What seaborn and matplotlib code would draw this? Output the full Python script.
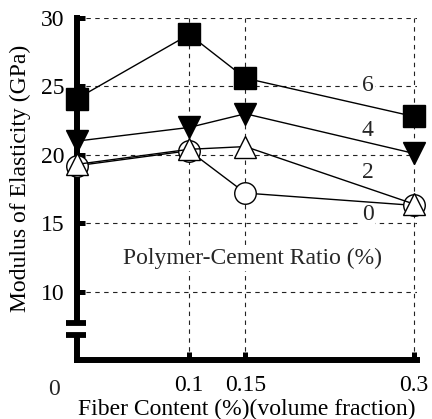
import numpy as np
import pandas as pd
import matplotlib
matplotlib.use("Agg")
import matplotlib.pyplot as plt
import matplotlib.transforms as mtransforms
import seaborn as sns

fiber = [0.0, 0.1, 0.15, 0.3]
ratio_labels = ["6", "4", "2", "0"]
e_pc6 = [24.1, 28.8, 25.6, 22.8]
e_pc4 = [21.0, 22.0, 23.0, 20.1]
e_pc2 = [19.3, 20.4, 20.6, 16.4]
e_pc0 = [19.2, 20.3, 17.2, 16.3]
y_ticks = [10, 15, 20, 25, 30]
x_ticks = [0.1, 0.15, 0.3]
x_ticklabels = ["0.1", "0.15", "0.3"]

sns.set_theme(style="white")
plt.rcParams['font.family'] = ['Liberation Serif', 'DejaVu Serif']

FS = 17

fig = plt.figure(figsize=(4.32, 4.19), dpi=100)
ax = fig.add_axes([0.178, 0.141, 0.787, 0.816])

series = [
    (e_pc0, 'o', 'white', 15.5),
    (e_pc2, '^', 'white', 16),
    (e_pc4, 'v', 'black', 16),
    (e_pc6, 's', 'black', 16),
]
for vals, mk, fc, ms in series:
    sns.lineplot(x=fiber, y=vals, ax=ax, color='black', linewidth=1.0,
                 marker=mk, markersize=ms, markerfacecolor=fc,
                 markeredgecolor='black', markeredgewidth=1.0,
                 clip_on=False, zorder=5)

ax.set_xlim(0, 0.3027)
ax.set_ylim(5, 30)
ax.set_xticks(x_ticks)
ax.set_xticklabels(x_ticklabels)
ax.set_yticks(y_ticks)
ax.set_yticklabels([str(v) for v in y_ticks])

for s in ['top', 'right']:
    ax.spines[s].set_visible(False)
for s in ['left', 'bottom']:
    ax.spines[s].set_linewidth(4.3)
    ax.spines[s].set_color('black')
    ax.spines[s].set_capstyle('projecting')

ax.tick_params(axis='both', direction='in', length=6, width=3.6, color='black',
               labelsize=FS, labelcolor='black')
ax.tick_params(axis='y', pad=9, left=True)
ax.tick_params(axis='x', pad=11, bottom=True)

ax.grid(True, linestyle=(0, (4, 4)), linewidth=0.8, color='#222222')
ax.set_axisbelow(True)

# "0" label for the x axis origin
ax.text(-0.0205, -0.056, "0", transform=mtransforms.blended_transform_factory(ax.transData, ax.transAxes),
        ha='center', va='top', fontsize=FS, clip_on=False)

ax.set_xlabel("Fiber Content (%)(volume fraction)", fontsize=FS, color='black')
ax.xaxis.set_label_coords(0.5, -0.115)
ax.set_ylabel("Modulus of Elasticity (GPa)", fontsize=FS, color='black')
ax.yaxis.set_label_coords(-0.135, 0.53)

# ratio labels
label_y = [25.1, 21.8, 18.7, 15.6]
for lab, yy in zip(ratio_labels, label_y):
    ax.text(0.259, yy, lab, ha='center', va='center', fontsize=FS,
            bbox=dict(facecolor='white', edgecolor='none', pad=1), zorder=3)
ax.text(0.156, 12.4, "Polymer-Cement Ratio (%)", ha='center', va='center', fontsize=FS,
        bbox=dict(facecolor='white', edgecolor='none', pad=1), zorder=3)

# axis break marks
bt = mtransforms.blended_transform_factory(ax.transAxes, ax.transData)
ax.fill_between([-0.02, 0.02], 6.95, 7.6, color='white', transform=bt, clip_on=False, zorder=6)
for yb in [7.69, 6.85]:
    ax.plot([-0.032, 0.026], [yb, yb], color='black', linewidth=4.2, transform=bt,
            clip_on=False, zorder=7, solid_capstyle='butt')

fig.savefig("out.png", dpi=100)
